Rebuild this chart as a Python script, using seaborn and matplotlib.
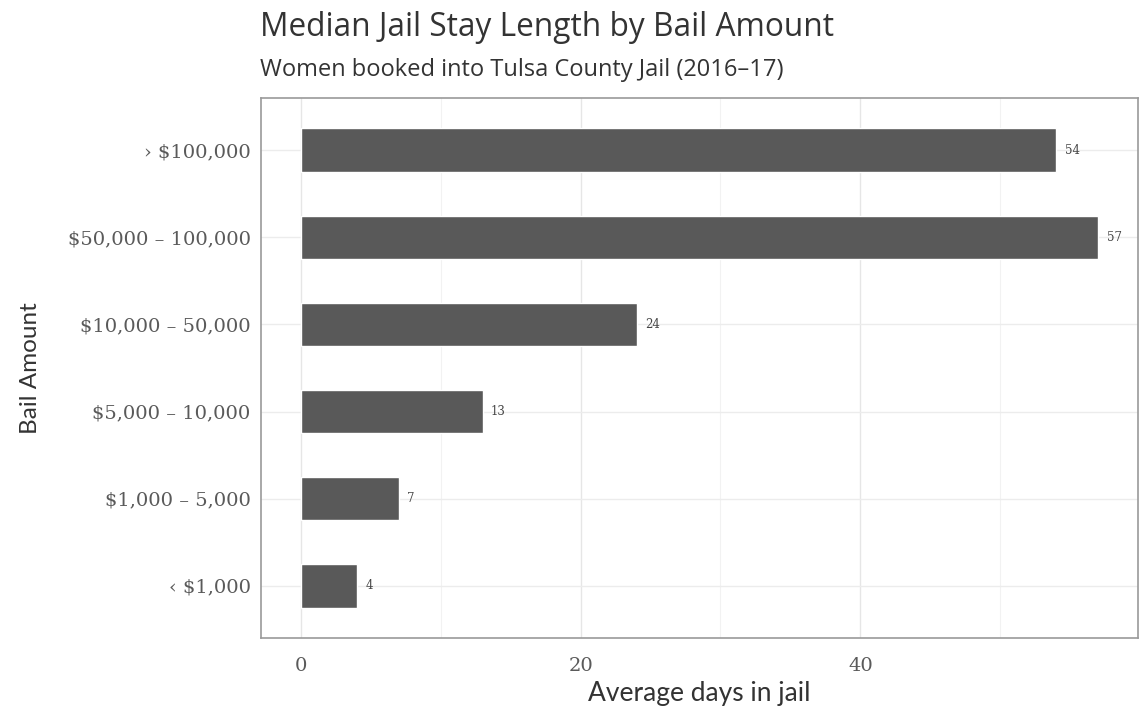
import matplotlib.pyplot as plt
import numpy as np
import pandas as pd
import seaborn as sns

# === Data ===
bail_amounts = [
    "› $100,000",
    "$50,000 – 100,000",
    "$10,000 – 50,000",
    "$5,000 – 10,000",
    "$1,000 – 5,000",
    "‹ $1,000",
]
days_in_jail = [54, 57, 24, 13, 7, 4]

df = pd.DataFrame({"bail": bail_amounts, "days": days_in_jail})

# === Plot ===
sns.set_theme(style="white")
plt.rcParams["font.family"] = ["Lato", "DejaVu Sans"]

fig = plt.figure(figsize=(11.41, 7.12), dpi=100)
ax = fig.add_axes([0.2287, 0.1039, 0.7687, 0.7585])

sns.barplot(data=df, x="days", y="bail", orient="h", color="#595959",
            saturation=1, width=0.5, ax=ax, zorder=3)

# value labels
for i, v in enumerate(days_in_jail):
    ax.text(v + 0.6, i, str(v), va="center", ha="left", fontsize=8.5,
            color="#444444", family="DejaVu Serif", zorder=4)

# ggplot-style 5% expansion
ax.set_xlim(-0.05 * max(days_in_jail), 1.05 * max(days_in_jail))
ax.set_ylim(len(bail_amounts) - 0.4, -0.6)

# gridlines (major + minor, like theme_bw)
ax.set_xticks([0, 20, 40])
ax.set_xticks([10, 30, 50], minor=True)
ax.grid(axis="x", which="major", color="#e6e6e6", linewidth=1.0, zorder=0)
ax.grid(axis="x", which="minor", color="#f2f2f2", linewidth=0.8, zorder=0)
ax.grid(axis="y", which="major", color="#ececec", linewidth=1.0, zorder=0)
ax.set_axisbelow(True)

for spine in ax.spines.values():
    spine.set_color("#9a9a9a")
    spine.set_linewidth(1.2)

ax.tick_params(axis="both", which="major", length=4, width=1.2, color="#555555",
               labelsize=14, labelcolor="#5a5a5a", direction="out")
ax.tick_params(axis="x", which="minor", length=0)
ax.tick_params(axis="x", pad=10)
for lbl in ax.get_xticklabels() + ax.get_yticklabels():
    lbl.set_family("DejaVu Serif")

ax.set_xlabel("Average days in jail", fontsize=19, color="#333333",
              va="center")
ax.xaxis.set_label_coords(0.5, -0.102)
ax.set_ylabel("Bail Amount", fontsize=17.5, color="#333333", va="center")
ax.yaxis.set_label_coords(-0.263, 0.5)

fig.text(0.2278, 0.962, "Median Jail Stay Length by Bail Amount",
         fontsize=22.8, color="#333333", ha="left", va="center",
         family="Open Sans")
fig.text(0.2278, 0.902, "Women booked into Tulsa County Jail (2016–17)",
         fontsize=17, color="#333333", ha="left", va="center",
         family="Open Sans")

fig.savefig("out.png", dpi=100)
